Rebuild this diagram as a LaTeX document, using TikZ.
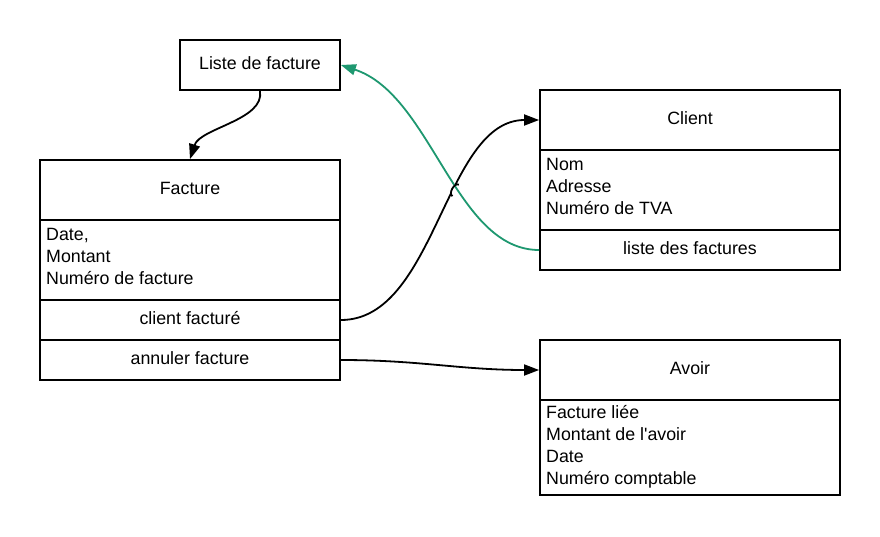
\documentclass[tikz,border=0pt]{standalone}
\usepackage{fontspec}
\setmainfont{Liberation Sans}
\usetikzlibrary{arrows.meta}
\definecolor{lgreen}{RGB}{30,152,112}
\begin{document}
\begin{tikzpicture}[x=1pt,y=-1pt,
  box/.style={draw=black,line width=1.8pt,minimum width=300pt,inner sep=0pt,
    text height=13pt,text depth=4pt,
    font=\fontsize{17.8}{22}\selectfont},
  attr/.style={anchor=west,inner sep=0pt,align=left,
    font=\fontsize{17.8}{22}\selectfont},
  conn/.style={line width=1.8pt,-{Triangle[length=15pt,width=11pt]}},
]
\useasboundingbox[fill=white] (0,0) rectangle (880,536);
% Liste de facture
\node[box,minimum width=160pt,minimum height=50pt] (liste) at (260,65) {Liste de facture};
% Facture
\node[box,minimum height=60pt] (fh) at (190,190) {Facture};
\node[box,minimum height=80pt] (fa) at (190,260) {};
\node[attr] (fat) at (46,256) {Date,\\Montant\\Numéro de facture};
\node[box,minimum height=40pt] (fc) at (190,320) {client facturé};
\node[box,minimum height=40pt] (fn) at (190,360) {annuler facture};
% Client
\node[box,minimum height=60pt] (ch) at (690,120) {Client};
\node[box,minimum height=80pt] (ca) at (690,190) {};
\node[attr] (cat) at (546,186) {Nom\\Adresse\\Numéro de TVA};
\node[box,minimum height=40pt] (cl) at (690,250) {liste des factures};
% Avoir
\node[box,minimum height=60pt] (ah) at (690,370) {Avoir};
\node[box,minimum height=95pt] (aa) at (690,447.5) {};
\node[attr] (aat) at (546,447) {Facture liée\\Montant de l\textquotesingle avoir\\Date\\Numéro comptable};
% connectors
\draw[conn] (liste.south) .. controls (265,120) and (200,128) .. (fh.north);
\draw[conn] (fc.east) .. controls (436,320) and (444,120) .. (ch.west)
  coordinate[pos=0.58] (hopA) coordinate[pos=0.6] (hopM) coordinate[pos=0.62] (hopB);
\fill[white] (hopM) circle (5.5pt);
\draw[conn,color=lgreen] (cl.west) .. controls (455,250) and (432,95) .. (liste.east);
\draw[line width=1.8pt] (hopA) to[bend left=90] (hopB);
\draw[conn] (fn.east) .. controls (420,360) and (460,370) .. (ah.west);
\end{tikzpicture}
\end{document}
